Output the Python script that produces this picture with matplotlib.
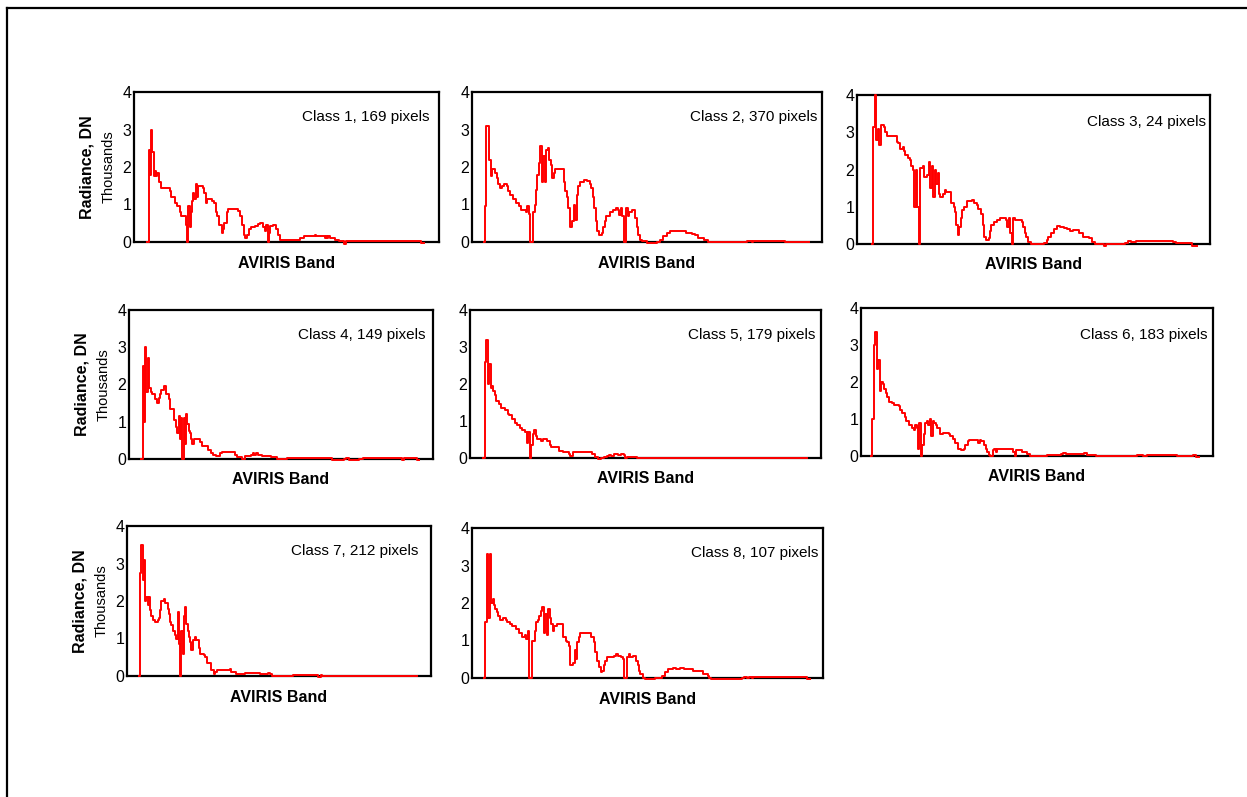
import matplotlib
matplotlib.use("Agg")
import matplotlib.pyplot as plt
from matplotlib.lines import Line2D

plt.rcParams["font.family"] = ["Liberation Sans", "DejaVu Sans"]

# ---------------------------------------------------------
# mean radiance per AVIRIS band (thousands of DN)

class_names = [
    "Class 1, 169 pixels", "Class 2, 370 pixels", "Class 3, 24 pixels",
    "Class 4, 149 pixels", "Class 5, 179 pixels", "Class 6, 183 pixels",
    "Class 7, 212 pixels", "Class 8, 107 pixels",
]

bands_1 = [1, 2, 3, 4, 5, 6, 7, 8, 9, 10,
           12, 18, 19, 20, 23, 25, 27, 28, 31, 32,
           33, 34, 35, 36, 37, 38, 39, 40, 41, 42,
           44, 46, 47, 48, 49, 53, 55, 56, 57, 59,
           61, 62, 63, 65, 66, 72, 74, 76, 77, 79,
           80, 81, 83, 85, 88, 90, 92, 94, 96, 97,
           98, 99, 100, 102, 105, 106, 108, 124, 127, 136,
           137, 144, 145, 146, 147, 148, 150, 152, 156, 160,
           161, 222, 224]
rad_1 = [0, 2.45, 1.8, 3.0, 2.4, 1.75, 1.9, 1.75, 1.85, 1.6,
         1.45, 1.45, 1.35, 1.2, 1.05, 0.95, 0.8, 0.7, 0.7, 0.45,
         0, 0.95, 0.4, 0.8, 1.1, 1.3, 1.15, 1.55, 1.2, 1.5,
         1.5, 1.45, 1.3, 1.05, 1.15, 1.1, 1.05, 0.8, 0.7, 0.45,
         0.25, 0.35, 0.5, 0.8, 0.88, 0.88, 0.82, 0.7, 0.45, 0.2,
         0.1, 0.2, 0.35, 0.4, 0.42, 0.48, 0.5, 0.4, 0.3, 0.45,
         0, 0.25, 0.42, 0.45, 0.35, 0.2, 0.05, 0.1, 0.15, 0.2,
         0.15, 0.1, 0.15, 0.1, 0.15, 0.12, 0.1, 0.05, 0.03, -0.05,
         0.03, -0.02, -0.02]

bands_2 = [1, 2, 3, 4, 5, 6, 7, 9, 10, 11,
           12, 14, 15, 17, 18, 19, 21, 23, 25, 27,
           30, 31, 32, 33, 34, 35, 36, 37, 38, 39,
           40, 41, 42, 43, 44, 45, 46, 47, 48, 49,
           50, 55, 56, 57, 58, 59, 60, 62, 63, 64,
           65, 66, 67, 70, 72, 74, 75, 76, 77, 78,
           79, 80, 82, 83, 84, 85, 88, 90, 92, 93,
           94, 95, 96, 97, 98, 99, 100, 101, 103, 105,
           106, 107, 108, 110, 113, 120, 122, 124, 127, 129,
           138, 140, 144, 146, 148, 152, 155, 182, 185, 186,
           208, 224]
rad_2 = [0, 0.95, 3.1, 3.1, 2.2, 1.75, 1.95, 1.85, 1.7, 1.55,
         1.45, 1.5, 1.55, 1.5, 1.35, 1.25, 1.15, 1.05, 0.95, 0.85,
         0.8, 0.95, 0.75, 0, 0, 0.8, 1.0, 1.4, 1.8, 2.1,
         2.55, 1.6, 2.3, 1.6, 2.45, 2.5, 2.2, 2.05, 1.7, 1.85,
         1.95, 1.95, 1.6, 1.35, 1.2, 0.9, 0.4, 0.55, 1.0, 0.6,
         1.25, 1.5, 1.6, 1.65, 1.62, 1.55, 1.45, 1.2, 0.9, 0.55,
         0.3, 0.2, 0.25, 0.4, 0.55, 0.7, 0.8, 0.85, 0.9, 0.85,
         0.72, 0.9, 0.7, 0, 0, 0.9, 0.7, 0.8, 0.85, 0.65,
         0.4, 0.2, 0.05, 0.02, -0.03, 0.0, 0.05, 0.15, 0.25, 0.3,
         0.3, 0.25, 0.22, 0.18, 0.12, 0.05, 0.0, 0.03, 0.0, 0.03,
         0.0, 0.0]

bands_3 = [1, 2, 3, 4, 5, 6, 7, 9, 10, 11,
           17, 18, 19, 20, 22, 23, 24, 26, 27, 28,
           29, 30, 31, 32, 33, 34, 36, 37, 39, 40,
           41, 42, 43, 44, 45, 46, 47, 48, 50, 51,
           52, 55, 57, 58, 59, 60, 61, 62, 63, 64,
           66, 70, 71, 73, 74, 76, 77, 78, 79, 81,
           82, 83, 85, 87, 89, 93, 94, 95, 96, 97,
           98, 99, 104, 105, 106, 107, 108, 110, 119, 121,
           122, 124, 126, 128, 130, 133, 135, 137, 139, 143,
           146, 150, 152, 154, 160, 162, 175, 177, 179, 182,
           208, 210, 221, 224]
rad_3 = [0, 3.15, 4.0, 2.8, 3.1, 2.65, 3.2, 3.15, 3.0, 2.9,
         2.9, 2.75, 2.7, 2.55, 2.6, 2.5, 2.4, 2.3, 2.25, 2.1,
         2.0, 1.0, 2.0, 1.0, 0, 2.05, 2.1, 1.8, 1.85, 2.2,
         1.5, 2.1, 1.25, 2.0, 1.6, 1.9, 1.35, 1.25, 1.35, 1.45,
         1.4, 1.1, 1.0, 0.85, 0.5, 0.25, 0.45, 0.7, 0.9, 1.0,
         1.15, 1.17, 1.1, 1.05, 0.95, 0.8, 0.5, 0.2, 0.1, 0.15,
         0.35, 0.5, 0.6, 0.65, 0.7, 0.65, 0.45, 0.7, 0.3, 0,
         0.7, 0.65, 0.6, 0.45, 0.3, 0.2, 0.05, 0.0, 0.03, 0.1,
         0.2, 0.3, 0.4, 0.47, 0.45, 0.42, 0.4, 0.35, 0.37, 0.3,
         0.2, 0.15, 0.05, 0.0, -0.05, 0.0, 0.03, 0.07, 0.05, 0.08,
         0.06, 0.03, -0.05, -0.05]

bands_4 = [1, 2, 3, 4, 5, 6, 7, 9, 10, 12,
           14, 15, 16, 17, 19, 21, 23, 24, 27, 29,
           30, 31, 32, 33, 34, 35, 36, 37, 38, 39,
           40, 41, 42, 43, 48, 50, 55, 57, 59, 61,
           64, 66, 76, 78, 82, 84, 89, 90, 91,
           92, 93, 95, 98, 105, 110, 118, 154, 164, 166,
           168, 176, 179, 211, 212, 220, 223, 224]
rad_4 = [0, 2.5, 1.0, 3.0, 1.8, 2.7, 1.9, 1.8, 1.75, 1.6,
         1.5, 1.65, 1.75, 1.85, 1.95, 1.75, 1.6, 1.35, 1.05, 0.85,
         0.7, 1.15, 0.55, 1.1, 0, 1.1, 0.4, 1.2, 0.95, 0.75,
         0.7, 0.55, 0.4, 0.55, 0.45, 0.35, 0.25, 0.15, 0.1, 0.08,
         0.15, 0.2, 0.12, 0.05, 0.0, 0.08, 0.12, 0.1, 0.15,
         0.1, 0.15, 0.12, 0.08, 0.05, 0.0, 0.03, -0.02, 0.0, 0.03,
         -0.02, 0.0, 0.03, -0.02, 0.03, 0.03, -0.02, -0.02]

bands_5 = [1, 2, 3, 4, 5, 6, 7, 8, 9, 10,
           12, 13, 16, 18, 19, 21, 23, 24, 26, 28,
           30, 31, 32, 33, 34, 35, 36, 37, 38, 41,
           42, 45, 47, 48, 53, 56, 60, 61, 63, 64,
           76, 78, 80, 82, 84, 86, 88, 89, 91, 94,
           96, 98, 99, 100, 107, 147, 224]
rad_5 = [0, 2.6, 3.2, 2.0, 2.55, 1.9, 1.95, 1.8, 1.7, 1.55,
         1.45, 1.35, 1.3, 1.2, 1.15, 1.05, 0.95, 0.9, 0.8, 0.75,
         0.7, 0.4, 0.7, 0, 0.35, 0.65, 0.75, 0.6, 0.5, 0.45,
         0.5, 0.45, 0.35, 0.3, 0.2, 0.15, 0.12, 0.05, 0.15, 0.17,
         0.1, 0.03, -0.03, 0.0, 0.03, 0.05, 0.08, 0.05, 0.1, 0.08,
         0.1, 0.08, 0.0, 0.03, 0.0, -0.01, -0.01]

bands_6 = [1, 2, 3, 4, 5, 6, 7, 8, 9, 10,
           11, 12, 13, 15, 17, 20, 21, 22, 24, 25,
           27, 29, 30, 31, 32, 33, 34, 35, 36, 37,
           38, 39, 40, 41, 42, 43, 44, 45, 46, 48,
           50, 54, 55, 57, 58, 60, 62, 64, 65, 67,
           68, 74, 75, 76, 78, 79, 80, 81, 82, 84,
           85, 86, 87, 98, 99, 100, 104, 107, 109, 121,
           130, 132, 134, 146, 148, 154, 182, 186, 189, 209,
           220, 222, 224]
rad_6 = [0, 1.0, 3.0, 3.35, 2.35, 2.6, 1.75, 2.0, 1.95, 1.8,
         1.7, 1.6, 1.45, 1.42, 1.38, 1.35, 1.25, 1.15, 1.05, 0.95,
         0.85, 0.75, 0.7, 0.85, 0.75, 0.2, 0.9, 0, 0.3, 0.6,
         0.9, 0.95, 0.85, 1.0, 0.55, 0.95, 0.9, 0.85, 0.75, 0.6,
         0.62, 0.6, 0.55, 0.45, 0.35, 0.2, 0.15, 0.2, 0.3, 0.4,
         0.42, 0.35, 0.42, 0.4, 0.3, 0.2, 0.1, 0.03, 0.0, 0.15,
         0.18, 0.12, 0.18, 0.12, 0, 0.15, 0.1, 0.05, 0.0, 0.03,
         0.05, 0.08, 0.05, 0.08, 0.03, 0.0, 0.03, 0.0, 0.03, 0.0,
         0.03, -0.02, -0.02]

bands_7 = [1, 2, 3, 4, 5, 6, 7, 8, 9, 10,
           11, 12, 14, 16, 17, 18, 19, 21, 22, 24,
           25, 26, 27, 28, 30, 31, 32, 33, 34, 35,
           36, 37, 38, 39, 40, 41, 42, 43, 44, 46,
           47, 49, 50, 53, 54, 56, 59, 61, 62, 64,
           74, 75, 78, 79, 86, 98, 105, 106, 108, 125,
           145, 147, 148, 224]
rad_7 = [0, 2.75, 3.5, 2.55, 3.1, 2.0, 2.1, 1.9, 2.1, 1.75,
         1.6, 1.5, 1.45, 1.5, 1.55, 1.75, 2.0, 2.05, 1.95, 1.8,
         1.65, 1.45, 1.35, 1.2, 1.1, 1.0, 1.7, 0.85, 0, 1.2,
         0.6, 1.6, 1.85, 1.4, 1.2, 1.05, 0.9, 0.7, 0.95, 1.05,
         0.95, 0.75, 0.6, 0.55, 0.5, 0.35, 0.15, 0.05, 0.1, 0.15,
         0.18, 0.12, 0.1, 0.05, 0.08, 0.05, 0.08, 0.05, 0.0, 0.03,
         -0.03, 0.03, 0.0, 0.0]

bands_8 = [1, 2, 3, 4, 5, 6, 7, 8, 9, 10,
           11, 12, 14, 16, 17, 19, 20, 23, 25, 27,
           29, 30, 31, 32, 34, 36, 37, 38, 39, 40,
           41, 42, 43, 44, 45, 46, 47, 48, 49, 51,
           55, 57, 58, 59, 60, 62, 63, 64, 65, 66,
           67, 74, 76, 77, 78, 80, 81, 82, 83, 84,
           85, 90, 91, 93, 95, 96, 97, 99, 100, 101,
           103, 105, 106, 107, 108, 110, 111, 118, 123, 125,
           127, 130, 132, 135, 138, 142, 144, 149, 151, 154,
           155, 156, 177, 179, 181, 182, 184, 185, 222, 224]
rad_8 = [0, 1.5, 3.3, 1.6, 3.3, 2.0, 2.1, 1.95, 1.85, 1.75,
         1.65, 1.55, 1.6, 1.55, 1.5, 1.45, 1.4, 1.3, 1.2, 1.1,
         1.15, 1.05, 1.25, 0, 1.0, 1.25, 1.5, 1.55, 1.65, 1.8,
         1.9, 1.2, 1.7, 1.15, 1.85, 1.6, 1.45, 1.25, 1.4, 1.45,
         1.1, 1.0, 0.95, 0.85, 0.35, 0.4, 0.75, 0.5, 0.95, 1.1,
         1.2, 1.1, 0.95, 0.7, 0.45, 0.3, 0.15, 0.2, 0.35, 0.45,
         0.55, 0.6, 0.65, 0.6, 0.55, 0.5, 0, 0.55, 0.65, 0.55,
         0.6, 0.45, 0.35, 0.2, 0.1, 0.0, -0.03, 0.0, 0.05, 0.15,
         0.25, 0.28, 0.25, 0.27, 0.24, 0.23, 0.2, 0.18, 0.1, 0.05,
         0.0, -0.03, 0.0, 0.03, 0.0, 0.03, 0.0, 0.03, -0.02, -0.02]

all_bands = [bands_1, bands_2, bands_3, bands_4,
             bands_5, bands_6, bands_7, bands_8]
all_rad = [rad_1, rad_2, rad_3, rad_4, rad_5, rad_6, rad_7, rad_8]

# ---------------------------------------------------------
# layout: axes boxes in pixels (left, top, right, bottom)

W, H = 1247, 797

boxes = [
    (134, 92, 439, 242), (472, 92, 822, 242), (857, 95, 1210, 244),
    (129, 310, 433, 459), (470, 310, 821, 458), (861, 308, 1213, 456),
    (127, 526, 431, 676), (472, 528, 823, 678),
]

xlims = [
    (-9.8, 236.3), (-6.9, 233.1), (-9.3, 233.1), (-8.9, 235.6),
    (-8.2, 233.9), (-5.8, 233.8), (-8.6, 235.5), (-7.0, 232.6),
]

label_x = [0.970, 0.986, 0.990, 0.974, 0.983, 0.983, 0.957, 0.986]
label_y = [0.833, 0.833, 0.820, 0.830, 0.830, 0.820, 0.830, 0.830]

fig = plt.figure(figsize=(W / 100, H / 100), dpi=100)

for i in range(8):

    left, top, right, bottom = boxes[i]

    ax = fig.add_axes([
        left / W,
        1 - bottom / H,
        (right - left) / W,
        (bottom - top) / H,
    ])

    # red trace sits on top of the frame, as in the original
    ax.step(
        all_bands[i],
        all_rad[i],
        where="post",
        color="#ff0000",
        linewidth=1.4,
        clip_on=False,
        zorder=3,
    )

    ax.set_xlim(*xlims[i])
    ax.set_ylim(0, 4)
    ax.set_xticks([])
    ax.set_yticks([0, 1, 2, 3, 4])
    ax.tick_params(axis="y", length=0, pad=2, labelsize=11.5)

    for spine in ax.spines.values():
        spine.set_linewidth(1.6)
        spine.set_zorder(2)

    ax.text(
        label_x[i], label_y[i], class_names[i],
        transform=ax.transAxes,
        ha="right", va="center",
        fontsize=11,
    )

    ax.text(
        0.5, -0.14, "AVIRIS Band",
        transform=ax.transAxes,
        ha="center", va="center",
        fontsize=11.5, fontweight="bold",
    )

    # y labels only on the left column
    if i in (0, 3, 6):

        ax.annotate(
            "Radiance, DN",
            xy=(0, 0.5), xycoords="axes fraction",
            xytext=(-34, 0), textcoords="offset points",
            rotation=90, ha="center", va="center",
            fontsize=11.5, fontweight="bold",
        )

        ax.annotate(
            "Thousands",
            xy=(0, 0.5), xycoords="axes fraction",
            xytext=(-18, 0), textcoords="offset points",
            rotation=90, ha="center", va="center",
            fontsize=10.5,
        )

# outer frame (only top and left edges are in view)
fig.add_artist(Line2D([7 / W, 1], [1 - 8 / H, 1 - 8 / H],
                      transform=fig.transFigure, color="black", lw=1.6))
fig.add_artist(Line2D([7 / W, 7 / W], [0, 1 - 8 / H],
                      transform=fig.transFigure, color="black", lw=1.6))

fig.savefig("out.png", dpi=100)
